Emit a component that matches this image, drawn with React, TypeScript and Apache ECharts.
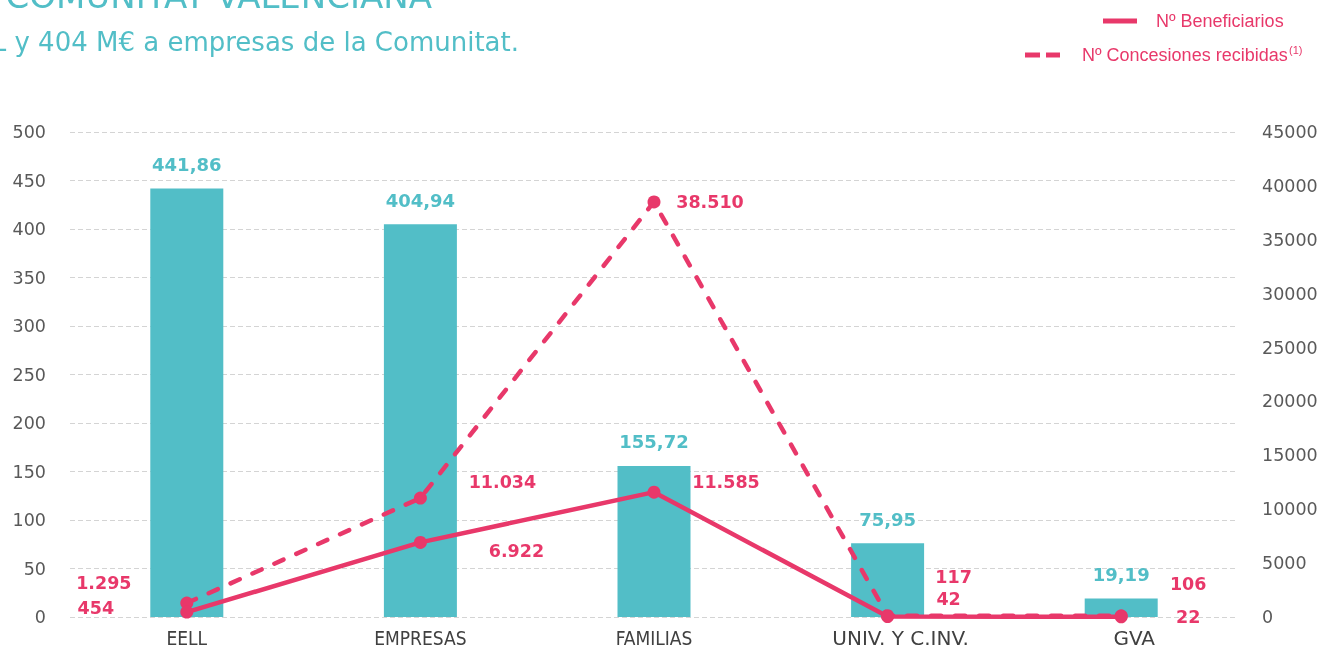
import React, { useEffect, useRef } from "react";
import * as echarts from "echarts";

const categories = ["EELL", "EMPRESAS", "FAMILIAS", "UNIV. Y C.INV.", "GVA"];
const importeMEur = [441.86, 404.94, 155.72, 75.95, 19.19];
const beneficiarios = [454, 6922, 11585, 42, 22];
const concesiones = [1295, 11034, 38510, 117, 106];
const leftTicks = { min: 0, max: 500, interval: 50 };
const rightTicks = { min: 0, max: 45000, interval: 5000 };

const titleText = "COMUNITAT VALENCIANA";
const subtitleText = "EELL y 404 M€ a empresas de la Comunitat.";
const legendBenef = "Nº Beneficiarios";
const legendConc = "Nº Concesiones recibidas";

// label offsets (px) from each point's marker centre — styling only
const benefLabelOffset = [[-91, -4], [96, 9], [72, -10], [61, -18], [67, 0]];
const concLabelOffset = [[-83, -20], [82, -16], [56, 0], [66, -39], [67, -32]];

const CYAN = "#52bec7";
const PINK = "#e8386a";
const GREY = "#595959";
const SYM = 13;

const fmtThousands = (v: number) => String(v).replace(/\B(?=(\d{3})+(?!\d))/g, ".");
const fmtDecimal = (v: number) => v.toFixed(2).replace(".", ",");

const condensed = "'Liberation Sans Narrow', 'DejaVu Sans Condensed', sans-serif";
const sans = "'DejaVu Sans', sans-serif";

export default function App() {
  const ref = useRef<HTMLDivElement>(null);
  useEffect(() => {
    if (!ref.current) return;
    const chart = echarts.init(ref.current, undefined, { renderer: "svg" });
    const lineLabel = (off: number[]) => ({
      show: true,
      position: [SYM / 2 + off[0], SYM / 2 + off[1]],
      align: "center",
      verticalAlign: "middle",
      color: PINK,
      fontFamily: sans,
      fontWeight: "bold",
      fontSize: 17.5,
      formatter: (p: any) => fmtThousands(p.value),
    });
    chart.setOption({
      animation: false,
      grid: { left: 70, right: 88, top: 132, bottom: 40, containLabel: false },
      xAxis: {
        type: "category",
        data: categories.map((c, i) => ({
          value: c,
          textStyle: i < 3
            ? { fontFamily: condensed, fontSize: 19, color: "#404040" }
            : { fontFamily: sans, fontSize: 20, color: "#404040", padding: [0, 0, 0, 26] },
        })),
        axisLine: { show: false },
        axisTick: { show: false },
        axisLabel: { margin: 11, interval: 0 },
      },
      yAxis: [
        {
          type: "value",
          min: leftTicks.min,
          max: leftTicks.max,
          interval: leftTicks.interval,
          axisLine: { show: false },
          axisTick: { show: false },
          axisLabel: { color: GREY, fontFamily: sans, fontSize: 17.5, margin: 24 },
          splitLine: { lineStyle: { color: "#d4d4d4", type: [5, 3], width: 1 } },
        },
        {
          type: "value",
          min: rightTicks.min,
          max: rightTicks.max,
          interval: rightTicks.interval,
          axisLine: { show: false },
          axisTick: { show: false },
          axisLabel: { color: GREY, fontFamily: sans, fontSize: 17.5, margin: 24, formatter: (v: number) => String(v) },
          splitLine: { show: false },
        },
      ],
      series: [
        {
          name: "Importe",
          type: "bar",
          data: importeMEur,
          barWidth: 73,
          itemStyle: { color: CYAN },
          label: {
            show: true,
            position: "top",
            distance: 15,
            color: CYAN,
            fontFamily: sans,
            fontWeight: "bold",
            fontSize: 18,
            formatter: (p: any) => fmtDecimal(p.value),
          },
        },
        {
          name: legendConc,
          type: "line",
          yAxisIndex: 1,
          symbol: "circle",
          symbolSize: SYM,
          itemStyle: { color: PINK },
          lineStyle: { color: PINK, width: 4.5, type: [10, 14], cap: "round" },
          data: concesiones.map((v, i) => ({ value: v, label: lineLabel(concLabelOffset[i]) })),
        },
        {
          name: legendBenef,
          type: "line",
          yAxisIndex: 1,
          symbol: "circle",
          symbolSize: SYM,
          itemStyle: { color: PINK },
          lineStyle: { color: PINK, width: 4.5 },
          data: beneficiarios.map((v, i) => ({ value: v, label: lineLabel(benefLabelOffset[i]) })),
        },
      ],
      graphic: [
        {
          type: "text",
          x: 432,
          y: -4,
          style: { text: titleText, fill: CYAN, font: "34px 'DejaVu Sans', sans-serif", align: "right", verticalAlign: "middle" },
        },
        {
          type: "text",
          x: 519,
          y: 42,
          style: { text: subtitleText, fill: CYAN, font: "26px 'DejaVu Sans', sans-serif", align: "right", verticalAlign: "middle" },
        },
        { type: "line", shape: { x1: 1103, y1: 21, x2: 1137, y2: 21 }, style: { stroke: PINK, lineWidth: 5 } },
        {
          type: "text",
          x: 1156,
          y: 21,
          style: { text: legendBenef, fill: PINK, font: "18px 'Liberation Sans', sans-serif", verticalAlign: "middle" },
        },
        { type: "line", shape: { x1: 1025, y1: 55, x2: 1040, y2: 55 }, style: { stroke: PINK, lineWidth: 5 } },
        { type: "line", shape: { x1: 1046, y1: 55, x2: 1060, y2: 55 }, style: { stroke: PINK, lineWidth: 5 } },
        {
          type: "text",
          x: 1082,
          y: 55,
          style: { text: legendConc, fill: PINK, font: "18px 'Liberation Sans', sans-serif", verticalAlign: "middle" },
        },
        {
          type: "text",
          x: 1289,
          y: 50,
          style: { text: "(1)", fill: PINK, font: "11px 'Liberation Sans', sans-serif", verticalAlign: "middle" },
        },
      ],
    });
    return () => chart.dispose();
  }, []);
  return <div ref={ref} style={{ position: "fixed", left: 0, top: 0, width: 1326, height: 657 }} />;
}
